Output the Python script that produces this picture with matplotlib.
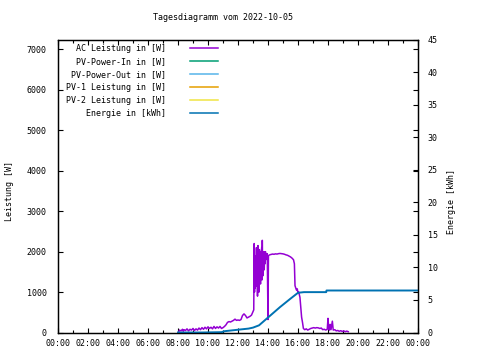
import matplotlib
matplotlib.use('Agg')
import matplotlib.pyplot as plt
from matplotlib.lines import Line2D

plt.rcParams['font.family'] = ['DejaVu Sans Mono']
plt.rcParams['font.size'] = 6

# AC Leistung [W] over the day (hours)
ac_hours = [8.05, 8.1, 8.2, 8.3, 8.35, 8.4, 8.5, 8.6, 8.7, 8.8, 8.9, 9.0, 9.1, 9.2, 9.3,
            9.4, 9.5, 9.6, 9.7, 9.8, 9.9, 10.0, 10.1, 10.2, 10.3, 10.4, 10.5, 10.6, 10.7,
            10.8, 10.9, 11.0, 11.1, 11.2, 11.3, 11.4, 11.5, 11.6, 11.7, 11.8, 11.9, 12.0,
            12.1, 12.2, 12.3, 12.4, 12.5, 12.6, 12.7, 12.8, 12.9, 13.0,
            13.05, 13.08, 13.1, 13.12, 13.15, 13.18, 13.2, 13.23, 13.25, 13.28, 13.3,
            13.33, 13.35, 13.38, 13.4, 13.43, 13.45, 13.48, 13.5, 13.53, 13.55, 13.58,
            13.6, 13.62, 13.65, 13.68, 13.7, 13.73, 13.75, 13.78, 13.8, 13.83, 13.85,
            13.88, 13.9, 13.95, 14.0, 14.03,
            14.1, 14.2, 14.3, 14.4, 14.5, 14.6, 14.7, 14.8, 14.9, 15.0, 15.1, 15.2, 15.3,
            15.4, 15.5, 15.6, 15.7, 15.76, 15.8, 15.85, 15.9, 15.95, 16.0, 16.05, 16.13,
            16.2, 16.24, 16.3, 16.36, 16.45, 16.55, 16.65, 16.75, 16.85, 16.95, 17.05,
            17.15, 17.25, 17.35, 17.45, 17.55, 17.65, 17.75, 17.85, 17.95, 18.0, 18.05,
            18.1, 18.15, 18.2, 18.29, 18.35, 18.45, 18.55, 18.65, 18.75, 18.85, 18.95,
            19.05, 19.15, 19.25, 19.35]
ac_power = [20, 60, 40, 80, 30, 70, 50, 90, 40, 80, 60, 100, 50, 90, 60,
            110, 70, 120, 80, 130, 90, 140, 100, 130, 90, 150, 100, 140, 110,
            150, 100, 120, 150, 190, 250, 270, 260, 280, 300, 330, 300, 310,
            300, 320, 420, 460, 420, 360, 380, 400, 430, 520,
            560, 2200, 1000, 1500, 1100, 1900, 1250, 2100, 1150, 1700, 900,
            2150, 1300, 1850, 1000, 2050, 1400, 1950, 1200, 2000, 1500, 2100,
            1300, 2280, 1400, 1900, 1650, 2000, 1550, 1950, 1700, 2000, 1800,
            1950, 1850, 1950, 320, 1900,
            1920, 1930, 1940, 1935, 1945, 1940, 1950, 1955, 1950, 1945, 1935, 1920, 1910,
            1890, 1870, 1840, 1800, 1700, 1160, 1100, 1050, 1080, 980, 1000, 870,
            550, 380, 250, 100, 70, 90, 60, 80, 100, 110, 120,
            110, 120, 115, 100, 110, 70, 80, 60, 80, 350, 90,
            60, 200, 70, 280, 60, 70, 40, 50, 30, 45, 25,
            40, 20, 35, 20]

# Energie [kWh]
e_hours = [8.0, 9.6, 10.9, 11.1, 11.9, 12.7, 13.0, 13.4, 14.0, 14.8, 15.5, 16.0, 16.4, 17.88, 17.9, 24.0]
e_kwh = [0, 0, 0.05, 0.2, 0.4, 0.6, 0.75, 1.1, 2.3, 3.9, 5.2, 6.1, 6.2, 6.2, 6.45, 6.45]

# series without data on this day
pv_in_hours, pv_in_power = [], []
pv_out_hours, pv_out_power = [], []
pv1_hours, pv1_power = [], []
pv2_hours, pv2_power = [], []

labels = ['AC Leistung in [W]', 'PV-Power-In in [W]', 'PV-Power-Out in [W]',
          'PV-1 Leistung in [W]', 'PV-2 Leistung in [W]', 'Energie in [kWh]']
colors = ['#9400d3', '#009e73', '#56b4e9', '#e69f00', '#f0e442', '#0072b2']

fig = plt.figure(figsize=(4.8, 3.6), dpi=100)
ax = fig.add_axes([58 / 480, 1 - 332.5 / 360, 360 / 480, 293 / 360])
ax2 = ax.twinx()

ax.plot(ac_hours, ac_power, color=colors[0], lw=1.1)
ax.plot(pv_in_hours, pv_in_power, color=colors[1], lw=1.1)
ax.plot(pv_out_hours, pv_out_power, color=colors[2], lw=1.1)
ax.plot(pv1_hours, pv1_power, color=colors[3], lw=1.1)
ax.plot(pv2_hours, pv2_power, color=colors[4], lw=1.1)
ax2.plot(e_hours, e_kwh, color=colors[5], lw=1.4)

ax.set_xlim(0, 24)
ax.set_ylim(0, 7247)
ax2.set_ylim(0, 45)
ax.set_xticks(range(0, 25, 2))
ax.set_xticklabels(['%02d:00' % (h % 24) for h in range(0, 25, 2)])
ax.set_xticks(range(1, 24, 2), minor=True)
ax.set_yticks(range(0, 7001, 1000))
ax2.set_yticks(range(0, 46, 5))

ax.tick_params(which='major', direction='in', length=3.5, width=0.8, top=True, right=True)
ax.tick_params(which='minor', direction='in', length=2, width=0.8, top=True)
ax.tick_params(axis='y', pad=8)
ax.tick_params(axis='x', pad=5)
ax2.tick_params(direction='in', length=3.5, width=0.8, pad=7)
for a in (ax, ax2):
    for s in a.spines.values():
        s.set_linewidth(0.9)

# gnuplot-style key: right-aligned text, line sample to the right
for i, (lab, c) in enumerate(zip(labels, colors)):
    y = 1 - (48.3 + 13 * i) / 360
    fig.text(166 / 480, y, lab, ha='right', va='center')
    fig.add_artist(Line2D([190 / 480, 218 / 480], [y, y], color=c, lw=1.1,
                          transform=fig.transFigure))

fig.text(223 / 480, 1 - 17 / 360, 'Tagesdiagramm vom 2022-10-05', ha='center', va='center')
fig.text(10 / 480, 1 - 191 / 360, 'Leistung [W]', rotation=90, ha='center', va='center')
fig.text(452 / 480, 1 - 201 / 360, 'Energie [kWh]', rotation=90, ha='center', va='center')

fig.savefig('out.png', dpi=100)
